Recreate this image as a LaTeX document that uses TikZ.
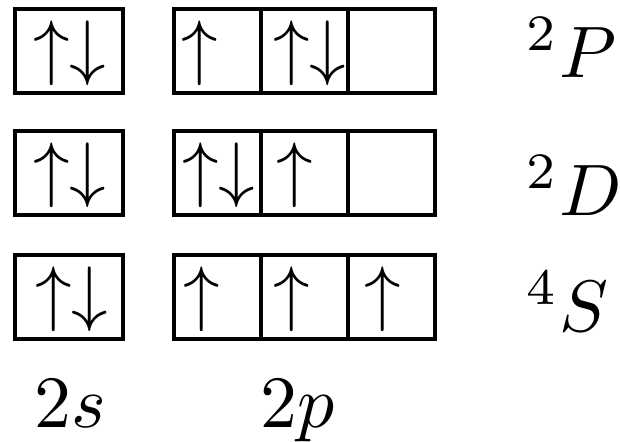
\documentclass[tikz,border=0pt]{standalone}
\usetikzlibrary{positioning}

\tikzset{
  orb/.style={draw, line width=2pt, minimum width=1.74cm, minimum height=1.68cm,
              inner sep=0pt, outer sep=0pt},
  spin/.style={yshift=-0.05cm, inner sep=0pt, scale=4.15},
  term/.style={inner sep=0pt, anchor=base west, scale=4.15},
  lbl/.style={inner sep=0pt, anchor=base, scale=4.2}
}

\begin{document}
\begin{tikzpicture}[node distance=0.76cm]
    \useasboundingbox (0,0) rectangle (12.4,8.82);

    % boxes, one row per term
    \node[orb, minimum width=2.16cm] (s1) at (1.38,7.80) {};
    \node[orb] (p1a) at (4.35,7.80) {};
    \node[orb, right=0pt of p1a] (p1b) {};
    \node[orb, right=0pt of p1b] (p1c) {};

    \node[orb, minimum width=2.16cm, below=of s1] (s2) {};
    \node[orb, below=of p1a] (p2a) {};
    \node[orb, right=0pt of p2a] (p2b) {};
    \node[orb, right=0pt of p2b] (p2c) {};

    \node[orb, minimum width=2.16cm, below=0.8cm of s2] (s3) {};
    \node[orb, below=0.8cm of p2a] (p3a) {};
    \node[orb, right=0pt of p3a] (p3b) {};
    \node[orb, right=0pt of p3b] (p3c) {};

    % electrons
    \node[spin] (e1s) at ([xshift=0.02cm]s1.center) {$\uparrow\downarrow$};
    \node[spin] (e1a) at ([xshift=-0.35cm]p1a.center) {$\uparrow$};
    \node[spin] (e1b) at ([xshift=0.10cm]p1b.center) {$\uparrow\downarrow$};

    \node[spin] (e2s) at ([xshift=0.02cm]s2.center) {$\uparrow\downarrow$};
    \node[spin] (e2a) at ([xshift=0.02cm]p2a.center) {$\uparrow\downarrow$};
    \node[spin] (e2b) at ([xshift=-0.19cm]p2b.center) {$\uparrow$};

    \node[spin] (e3s) at ([xshift=0.05cm]s3.center) {$\uparrow\downarrow$};
    \node[spin] (e3a) at ([xshift=-0.31cm]p3a.center) {$\uparrow$};
    \node[spin] (e3b) at ([xshift=-0.25cm]p3b.center) {$\uparrow$};
    \node[spin] (e3c) at ([xshift=-0.17cm]p3c.center) {$\uparrow$};

    % term symbols
    \node[term] (tP) at (10.5,7.28) {$^2P$};
    \node[term] (tD) at (10.5,4.52) {$^2D$};
    \node[term] (tS) at (10.5,2.20) {$^4S$};

    % subshells
    \node[lbl] (l2s) at (1.40,0.28) {$2s$};
    \node[lbl] (l2p) at (5.95,0.28) {$2p$};
\end{tikzpicture}
\end{document}
